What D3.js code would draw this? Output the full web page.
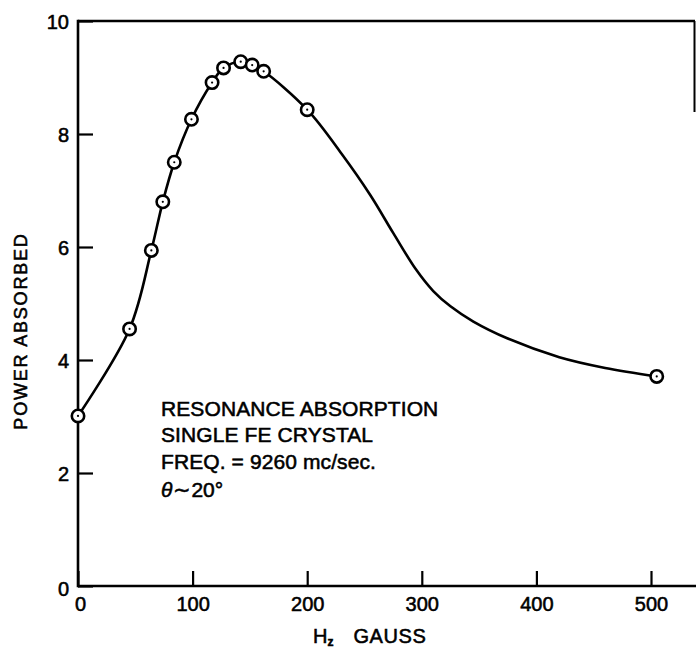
<!DOCTYPE html>
<html>
<head>
<meta charset="utf-8">
<script src="https://cdn.jsdelivr.net/npm/d3@7"></script>
<style>
  html, body { margin: 0; padding: 0; background: #fff; overflow: hidden; }
  svg { display: block; overflow: hidden; }
  text { font-family: "Liberation Sans", Arial, sans-serif; fill: #000; stroke: #000; stroke-width: 0.55px; }
</style>
</head>
<body>
<svg id="chart" width="696" height="649"></svg>
<script>
// Measured points (H_z in gauss, power absorbed)
const fieldPoints = [0, 45, 64, 74, 84, 99, 117, 127, 142, 152, 162, 200, 505];
const powerPoints = [3.01, 4.55, 5.94, 6.80, 7.50, 8.26, 8.91, 9.17, 9.28, 9.22, 9.11, 8.43, 3.71];

const curveField = [0, 45, 64, 74, 84, 99, 117, 127, 142, 152, 162, 200, 230, 255, 275, 295, 310, 325, 345, 375, 420, 460, 505];
const curvePower = [3.01, 4.55, 5.94, 6.80, 7.50, 8.26, 8.91, 9.17, 9.28, 9.22, 9.11, 8.43, 7.65, 6.92, 6.25, 5.60, 5.22, 4.95, 4.68, 4.38, 4.05, 3.86, 3.71];

const xTicks = [0, 100, 200, 300, 400, 500];
const yTicks = [0, 2, 4, 6, 8, 10];

const notes = ["RESONANCE ABSORPTION", "SINGLE FE CRYSTAL", "FREQ. = 9260 mc/sec."];

const svg = d3.select("#chart");
const x = d3.scaleLinear().domain([0, 500]).range([78, 651]);
const y = d3.scaleLinear().domain([0, 10]).range([586, 21]);

// Frame lines
const frame = svg.append("g").attr("stroke", "#000").attr("stroke-width", 2.6).attr("fill", "none");
frame.append("line").attr("x1", x(0)).attr("x2", 696).attr("y1", y(0)).attr("y2", y(0));
frame.append("line").attr("x1", x(0)).attr("x2", x(0)).attr("y1", y(10) - 1.3).attr("y2", y(0) + 1.3);
frame.append("line").attr("x1", x(0)).attr("x2", 695).attr("y1", y(10)).attr("y2", y(10));
frame.append("line").attr("x1", 694.5).attr("x2", 694.5).attr("y1", y(10)).attr("y2", 112).attr("stroke-width", 2);

// Axes (inward ticks)
const xAxis = d3.axisBottom(x).tickValues(xTicks).tickSizeInner(-15).tickSizeOuter(0).tickPadding(11);
const gx = svg.append("g").attr("transform", `translate(0,${y(0)})`).call(xAxis);
gx.select(".domain").remove();
gx.selectAll(".tick line").attr("stroke", "#000").attr("stroke-width", 2.2);
gx.selectAll(".tick text").attr("font-size", 20).attr("fill", "#000")
  .style("font-family", '"Liberation Sans", Arial, sans-serif')
  .attr("x", d => d === 0 ? 2 : 0);

const yAxis = d3.axisLeft(y).tickValues(yTicks).tickSizeInner(-15).tickSizeOuter(0).tickPadding(9);
const gy = svg.append("g").attr("transform", `translate(${x(0)},0)`).call(yAxis);
gy.select(".domain").remove();
gy.selectAll(".tick line").attr("stroke", "#000").attr("stroke-width", 2.2);
gy.selectAll(".tick text").attr("font-size", 20).attr("fill", "#000")
  .style("font-family", '"Liberation Sans", Arial, sans-serif')
  .attr("dy", d => d === 0 ? "0.45em" : "0.35em");

// Curve
const curveData = curveField.map((f, i) => [f, curvePower[i]]);
const line = d3.line().x(d => x(d[0])).y(d => y(d[1])).curve(d3.curveCatmullRom.alpha(0.5));
svg.append("path").datum(curveData).attr("d", line)
  .attr("fill", "none").attr("stroke", "#000").attr("stroke-width", 2.6);

// Markers
const pts = fieldPoints.map((f, i) => [f, powerPoints[i]]);
const mk = svg.append("g").selectAll("g").data(pts).join("g")
  .attr("transform", d => `translate(${x(d[0])},${y(d[1])})`);
mk.append("circle").attr("r", 6.2).attr("fill", "#fff").attr("stroke", "#000").attr("stroke-width", 2.6);
mk.append("circle").attr("r", 1.1).attr("fill", "#000");

// Axis titles
svg.append("text")
  .attr("transform", `translate(27,${331}) rotate(-90)`)
  .attr("text-anchor", "middle").attr("font-size", 18).attr("letter-spacing", 1.8)
  .text("POWER ABSORBED");

const xt = svg.append("text").attr("x", 313).attr("y", 643).attr("font-size", 20);
xt.append("tspan").text("H");
xt.append("tspan").attr("font-size", 12).attr("font-weight", "bold").attr("dy", 3).text("z");
xt.append("tspan").attr("dy", -3).attr("dx", 20).attr("letter-spacing", 0.6).text("GAUSS");

// Annotation
const noteBaselines = [416, 442, 469];
svg.append("g").selectAll("text").data(notes).join("text")
  .attr("x", 161).attr("y", (d, i) => noteBaselines[i])
  .attr("font-size", 21).attr("letter-spacing", 0.1)
  .text(d => d);

const th = svg.append("text").attr("x", 161).attr("y", 497).attr("font-size", 21);
th.append("tspan").attr("font-style", "italic").text("θ");
th.append("tspan").attr("dx", 1).text("∼20°");
</script>
</body>
</html>
